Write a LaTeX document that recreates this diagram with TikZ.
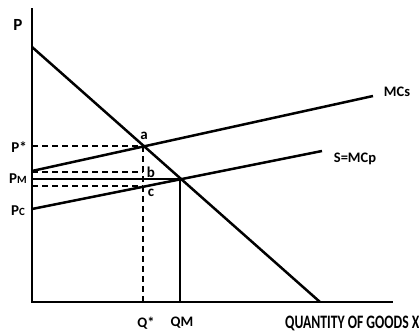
\documentclass[tikz,border=0pt]{standalone}
\usepackage{fontspec}
\setmainfont{Carlito}
\begin{document}
\begin{tikzpicture}[x=1pt,y=-1pt,
  axis/.style={line width=2.6pt,line join=miter},
  curve/.style={line width=2.5pt},
  guide/.style={line width=1.3pt,dash pattern=on 6pt off 4pt},
  thin/.style={line width=1.2pt},
  lab/.style={font=\bfseries\fontsize{15}{15}\selectfont,inner sep=0pt},
  small/.style={font=\bfseries\fontsize{14.5}{14.5}\selectfont,inner sep=0pt}]
\useasboundingbox (0,0) rectangle (419,332);
% coordinates
\coordinate (top) at (32,8);
\coordinate (O) at (32,302);
\coordinate (xend) at (393,302);
\coordinate (D1) at (32,47);
\coordinate (D2) at (320,302);
\coordinate (S1) at (32,171);
\coordinate (S2) at (373,96);
\coordinate (P1) at (32,209);
\coordinate (P2) at (322,151);
\coordinate (A) at (143,146);
\coordinate (Ay) at (32,146);
\coordinate (B) at (143,172);
\coordinate (By) at (32,172);
\coordinate (M) at (180,179);
\coordinate (My) at (32,179);
\coordinate (Mx) at (180,302);
\coordinate (C) at (143,186);
\coordinate (Cy) at (32,186);
\coordinate (Qx) at (143,302);
% guides
\draw[guide] (Ay) -- (A);
\draw[guide] (By) -- (B);
\draw[guide] (Cy) -- (C);
\draw[guide] (A) -- (Qx);
\draw[thin] (My) -- (M) -- (Mx);
% curves
\draw[curve] (D1) -- (D2);
\draw[curve] (S1) -- (S2);
\draw[curve] (P1) -- (P2);
\draw[axis] (top) -- (O) -- (xend);
% labels
\node[lab,font=\bfseries\fontsize{17}{17}\selectfont] (lP) at (18,25) {P};
\node[lab] (lPs) at (19,147) {P*};
\node[lab] (lPm) at (18,179) {P{\fontsize{11}{11}\selectfont M}};
\node[lab] (lPc) at (18,211) {P{\fontsize{11}{11}\selectfont C}};
\node[lab] (la) at (144,136) {a};
\node[lab] (lb) at (151,172) {b};
\node[lab] (lc) at (151,193) {c};
\node[small] (lQs) at (146,323) {Q*};
\node[small] (lQm) at (182,323) {QM};
\node[small] (lMCs) at (397,92) {MCs};
\node[small] (lMCp) at (355,159) {S=MCp};
\node[lab,anchor=west] (lX) at (285,323) {\scalebox{0.72}[1]{\fontsize{19}{19}\selectfont QUANTITY OF GOODS X}};
\end{tikzpicture}
\end{document}
